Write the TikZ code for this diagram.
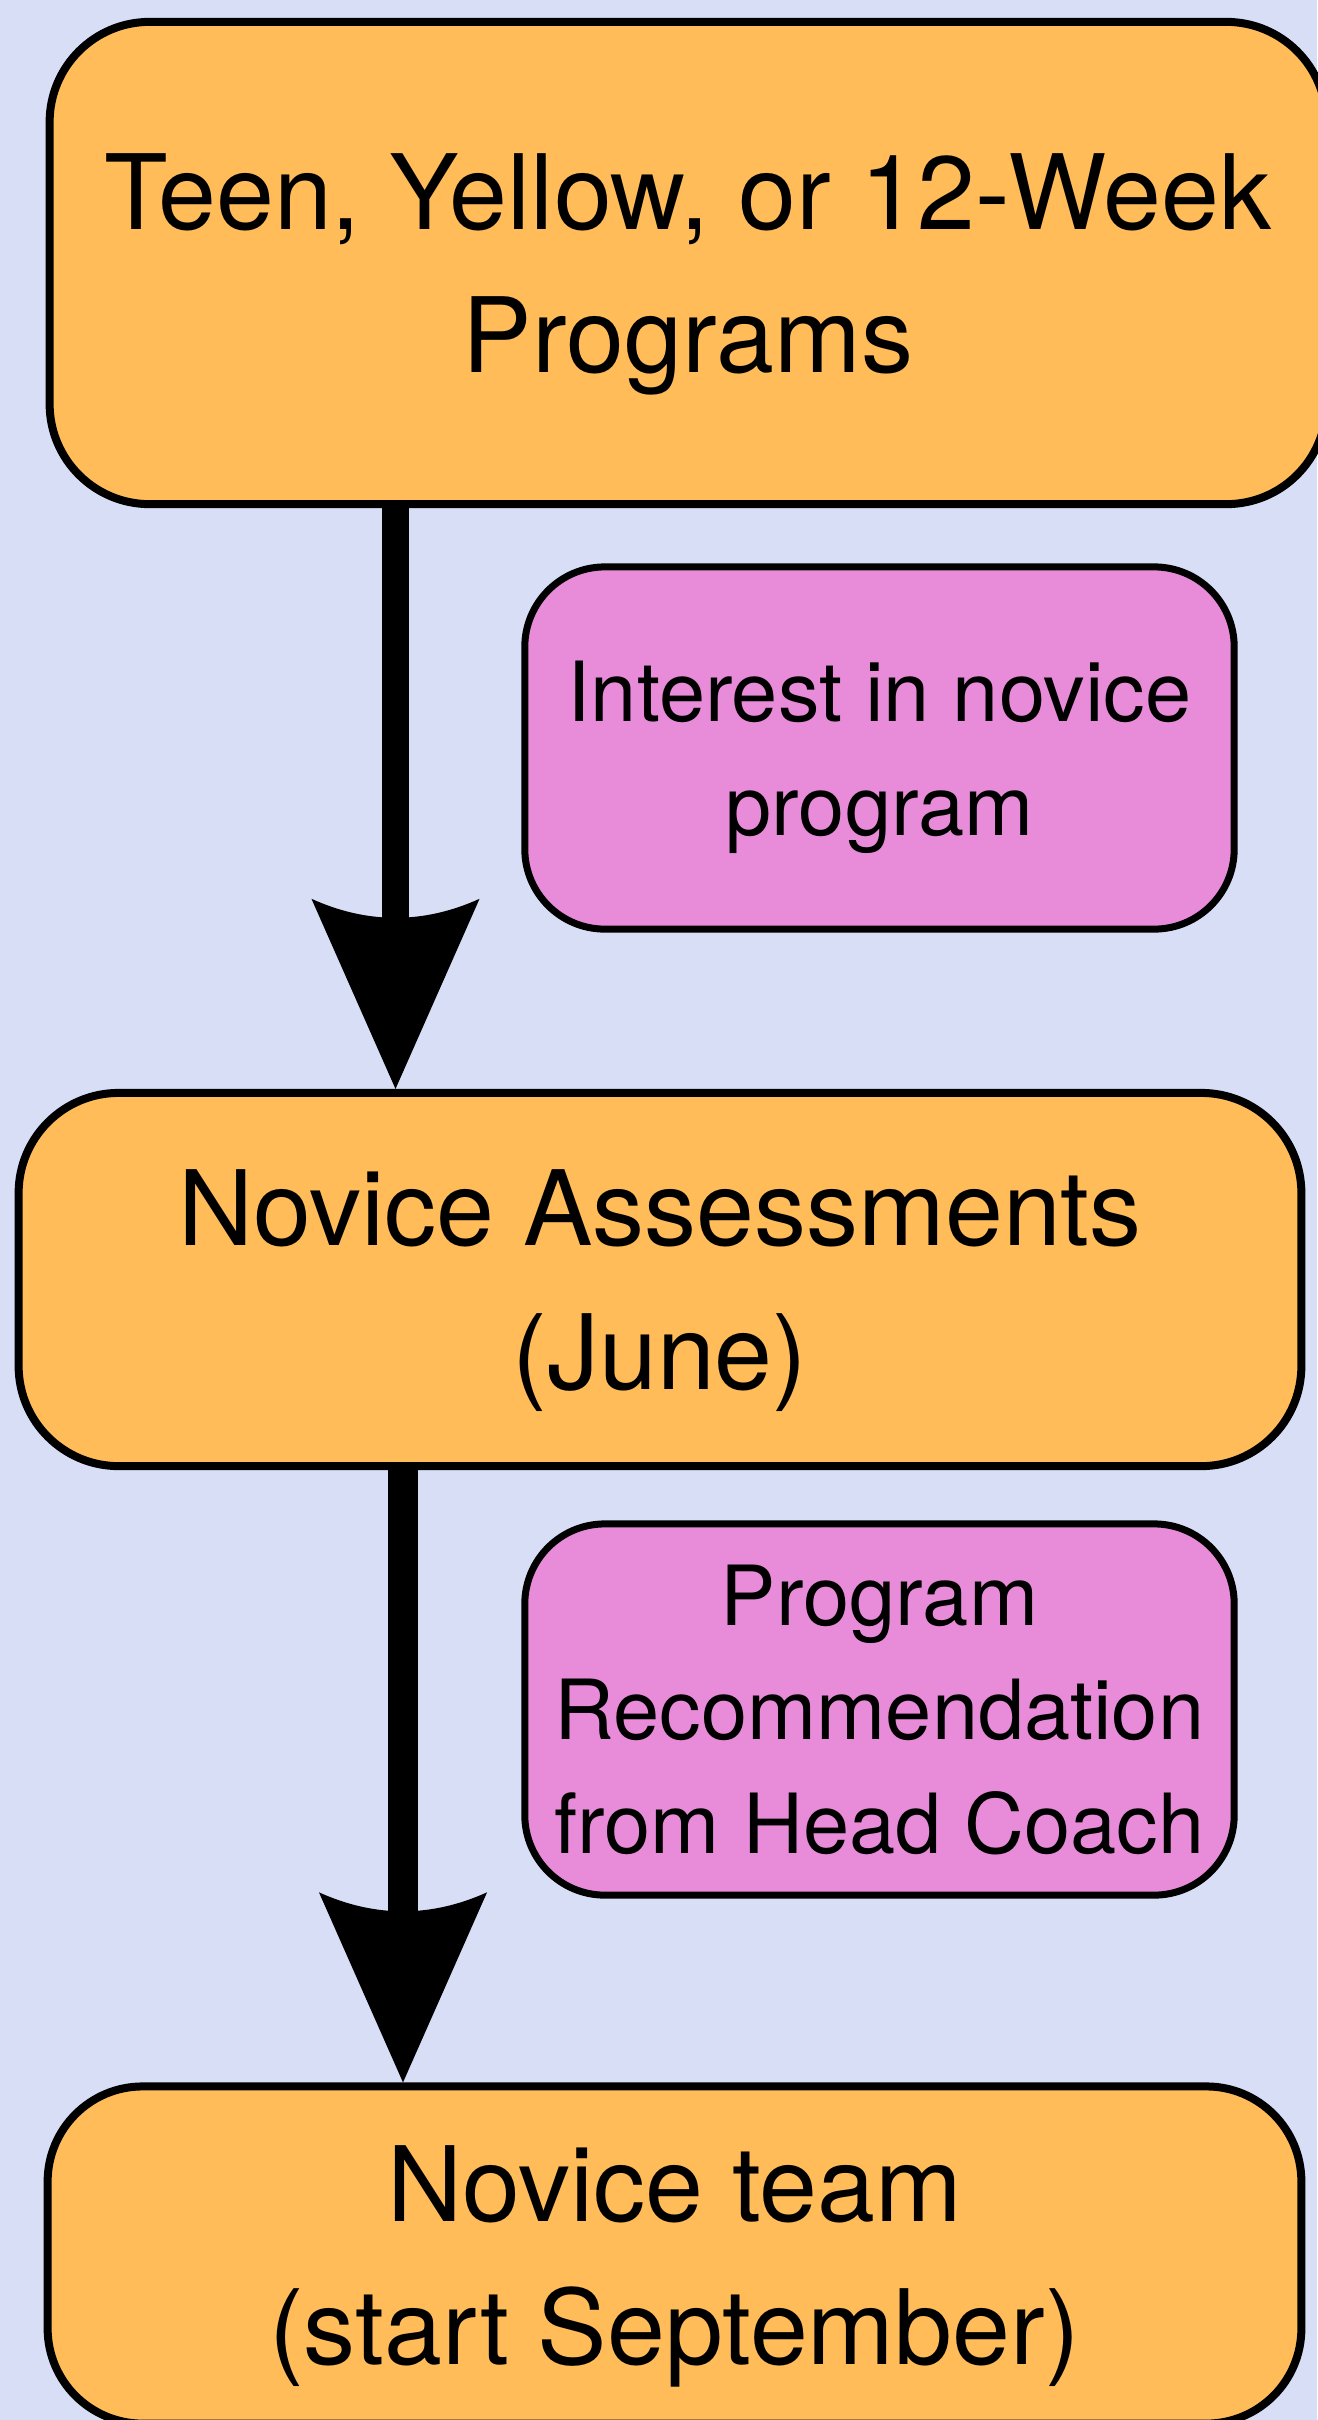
\documentclass[tikz,border=0pt]{standalone}
\usepackage{fontspec}
\setmainfont{TeX Gyre Heros}
\usetikzlibrary{arrows.meta}
\definecolor{bgcol}{RGB}{215,222,246}
\definecolor{orangecol}{RGB}{255,188,89}
\definecolor{pinkcol}{RGB}{232,140,218}
\newdimen\arrlineend
\pgfdeclarearrow{
  name = CurvedStealth,
  parameters = {\the\pgfarrowlength,\the\pgfarrowwidth,\the\pgfarrowinset},
  setup code = {
    \pgfarrowssettipend{0pt}
    \pgfarrowssetbackend{-\pgfarrowlength}
    \arrlineend=-\pgfarrowlength
    \advance\arrlineend by 1.3\pgfarrowinset
    \pgfarrowssetlineend{\arrlineend}
  },
  drawing code = {
    \pgfpathmoveto{\pgfpointorigin}
    \pgfpathlineto{\pgfpoint{-\pgfarrowlength}{0.5*\pgfarrowwidth}}
    \pgfpathquadraticcurveto{\pgfpoint{-\pgfarrowlength+2*\pgfarrowinset}{0pt}}{\pgfpoint{-\pgfarrowlength}{-0.5*\pgfarrowwidth}}
    \pgfpathclose
    \pgfusepathqfill
  },
  defaults = {length=1.9cm, width=1.68cm, inset=0.19cm}
}
\begin{document}
\begin{tikzpicture}[x=0.01cm,y=-0.01cm,
  bigbox/.style={draw=black, line width=0.08cm, fill=orangecol, rounded corners=1cm,
    align=center, inner sep=0pt, text depth=0pt, font=\fontsize{29.6pt}{40.7pt}\selectfont},
  notebox/.style={draw=black, line width=0.07cm, fill=pinkcol, rounded corners=0.8cm,
    align=center, inner sep=0pt, text depth=0pt, minimum width=7.09cm, font=\fontsize{23.6pt}{32.4pt}\selectfont},
  flowarrow/.style={line width=#1, -{CurvedStealth[length=1.9cm, width=1.68cm, inset=0.19cm]}},
]
\useasboundingbox (0,0) rectangle (1317,2420);
\fill[bgcol] (0,0) rectangle (1317,2420);

\node[bigbox, minimum width=12.76cm, minimum height=4.82cm] (prog) at (688,263)
  {Teen, Yellow, or 12-Week\\Programs};
\node[bigbox, minimum width=12.82cm, minimum height=3.73cm] (assess) at (660,1279.5)
  {Novice Assessments\\(June)};
\node[bigbox, minimum width=12.53cm, minimum height=3.37cm, rounded corners=0.95cm] (team) at (674.5,2255)
  {Novice team\\(start September)};

\node[notebox, minimum height=3.62cm] (interest) at (879.5,748)
  {Interest in novice\\program};
\node[notebox, minimum height=3.71cm] (recom) at (879.5,1709.5)
  {Program\\Recommendation\\from Head Coach};

\coordinate (xa) at (395.5,0);
\coordinate (xb) at (403,0);
\draw[flowarrow=0.27cm] (prog.south -| xa) -- (assess.north -| xa);
\draw[flowarrow=0.30cm] (assess.south -| xb) -- (team.north -| xb);
\end{tikzpicture}
\end{document}
